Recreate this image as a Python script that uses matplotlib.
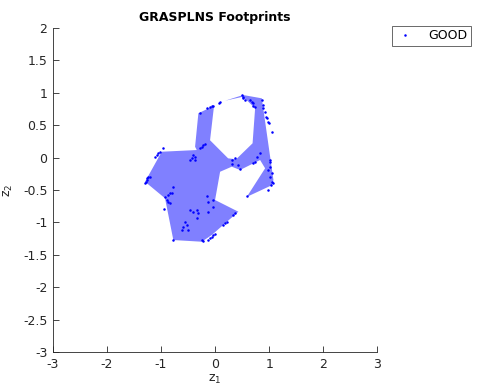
import matplotlib
matplotlib.use("Agg")
import matplotlib.pyplot as plt
from matplotlib.patches import Polygon

# footprint outline (z1, z2), traced clockwise
hull_z1 = [-1.296, -0.987, -0.339, -0.370, -0.309, -0.019, -0.093, 0.241, 0.389,
           0.694, 0.741, 0.519, 0.185, 0.519, 0.865, 1.080, 1.050, 0.587, 0.926,
           0.833, 0.463, 0.309, 0.093, 0.000, 0.431, -0.061, -0.246, -0.772, -0.926]
hull_z2 = [-0.372, 0.091, 0.117, 0.168, 0.684, 0.801, 0.268, -0.011, -0.026,
           0.221, 0.761, 0.940, 0.878, 0.966, 0.915, -0.345, -0.426, -0.606, -0.165,
           -0.037, -0.191, -0.140, -0.218, -0.654, -0.835, -1.194, -1.298, -1.272, -0.628]

# GOOD instances
good_z1 = [-0.278, -0.154, -0.093, -0.061, -0.031, 0.074, 0.093, -0.246, -0.278, -0.217,
           -0.185, -0.402, -0.370, -0.431, -0.463, -0.370, -0.957, -1.019, -1.050, -1.080,
           -1.111, 0.494, 0.524, 0.524, 0.556, 0.648, 0.680, 0.709, 0.709, 0.741,
           0.865, 0.894, 0.894, 0.926, 0.944, 0.969, 0.987, 1.006, 1.050, 0.772,
           0.833, 1.019, 1.019, 0.370, 0.309, 0.709, -1.265, -1.254, -1.278, -1.296,
           -1.235, -1.204, -0.926, -0.894, -0.865, -0.833, -0.802, -0.865, -0.833, -0.944,
           -0.772, -0.154, -0.124, -0.031, -0.463, -0.402, -0.339, -0.309, -0.328, -0.124,
           -0.556, -0.524, -0.587, -0.617, -0.494, -0.772, -0.246, -0.217, -0.124, -0.093,
           -0.061, -0.031, 0.000, 0.309, 0.431, 0.463, 0.741, 1.019, 0.987, 1.050,
           1.019, 1.050, 1.080, 1.031, 0.987, 0.587, -0.031, 0.370, 0.339, 0.217,
           0.185, 0.154]
good_z2 = [0.684, 0.761, 0.785, 0.796, 0.801, 0.838, 0.863, 0.168, 0.144, 0.194,
           0.205, 0.040, 0.014, -0.011, -0.037, -0.037, 0.153, 0.091, 0.066, 0.040,
           0.014, 0.966, 0.940, 0.915, 0.889, 0.889, 0.863, 0.838, 0.801, 0.785,
           0.889, 0.812, 0.761, 0.708, 0.631, 0.606, 0.554, 0.529, 0.400, 0.014,
           0.066, -0.037, -0.063, -0.011, -0.037, -0.088, -0.319, -0.346, -0.372, -0.397,
           -0.304, -0.295, -0.603, -0.654, -0.577, -0.551, -0.551, -0.681, -0.705, -0.798,
           -0.449, -0.593, -0.681, -0.654, -0.809, -0.835, -0.809, -0.860, -0.937, -0.835,
           -0.989, -1.040, -1.066, -1.117, -1.117, -1.272, -1.272, -1.282, -1.272, -1.245,
           -1.221, -1.194, -1.179, -0.099, -0.114, -0.181, -0.063, -0.140, -0.191, -0.242,
           -0.295, -0.372, -0.397, -0.423, -0.500, -0.593, -0.758, -0.860, -0.886, -0.989,
           -1.014, -1.040]

ticks = [-3, -2, -1, 0, 1, 2, 3]
yticks = [-3, -2.5, -2, -1.5, -1, -0.5, 0, 0.5, 1, 1.5, 2]

plt.rcParams.update({"font.family": "DejaVu Sans", "font.size": 9,
                     "axes.unicode_minus": False})

fig = plt.figure(figsize=(4.95, 3.87), dpi=100)
ax = fig.add_axes([0.107, 0.0904, 0.655, 0.8372])

ax.add_patch(Polygon(list(zip(hull_z1, hull_z2)), closed=True,
                     facecolor="#8080ff", edgecolor="none", zorder=1))
ax.plot(good_z1, good_z2, ".", color="#0000ff", markersize=1.6,
        label="GOOD", zorder=2)

ax.set_xlim(-3, 3)
ax.set_ylim(-3, 2)
ax.set_xticks(ticks)
ax.set_yticks(yticks)
ax.set_yticklabels([f"{v:g}" for v in yticks])
ax.spines["top"].set_visible(False)
ax.spines["right"].set_visible(False)
for s in ("left", "bottom"):
    ax.spines[s].set_color("#262626")
    ax.spines[s].set_linewidth(0.6)
ax.tick_params(direction="in", length=4, width=0.6, color="#262626",
               labelcolor="#262626", labelsize=9, pad=4)

ax.set_xlabel("z$_1$", color="#262626", fontsize=9, labelpad=2)
ax.set_ylabel("z$_2$", color="#262626", fontsize=9, labelpad=6)
ax.set_title("GRASPLNS Footprints", fontsize=9, fontweight="bold", pad=5)

leg = fig.legend(loc="upper right", bbox_to_anchor=(0.951, 0.934),
                 borderaxespad=0, frameon=True, fancybox=False, fontsize=9,
                 handlelength=1.6, borderpad=0.3, handletextpad=1.0)
leg.get_frame().set_edgecolor("#262626")
leg.get_frame().set_linewidth(0.6)

fig.savefig("out.png", dpi=100)
